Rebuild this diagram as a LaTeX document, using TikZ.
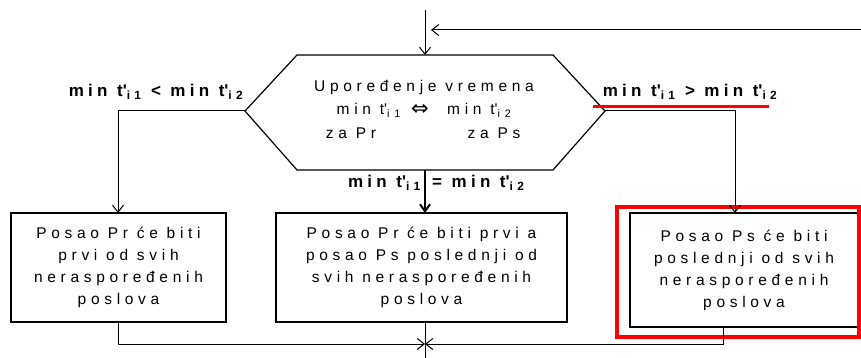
\documentclass[tikz,border=0pt]{standalone}
\usepackage{fontspec}
\setmainfont{Liberation Sans}
\newfontfamily\arrfont{DejaVu Sans}
\usetikzlibrary{arrows.meta}
\newXeTeXintercharclass\lsclass
\makeatletter
\newcommand\setlsrange[2]{\count@=#1\relax
  \loop\ifnum\count@<\numexpr#2+1\relax
    \XeTeXcharclass\count@=\lsclass
    \advance\count@ by 1
  \repeat}
\setlsrange{`a}{`z}
\setlsrange{`A}{`Z}
\setlsrange{`0}{`9}
\XeTeXcharclass"0107=\lsclass
\XeTeXcharclass"0111=\lsclass
\XeTeXcharclass`<=\lsclass
\XeTeXcharclass`>=\lsclass
\XeTeXcharclass`==\lsclass
\makeatother
\newcommand\tsb[1]{\textsubscript{#1}}
\newcommand\tq{\textquotesingle}
\newcommand\boxfont{\fontsize{15.5}{22}\selectfont
  \XeTeXinterchartokenstate=1
  \XeTeXinterchartoks\lsclass\lsclass={\kern4.7pt}%
  \spaceskip=8.8pt\relax}
\newcommand\lblfont{\bfseries\fontsize{17}{18}\selectfont
  \XeTeXinterchartokenstate=1
  \XeTeXinterchartoks\lsclass\lsclass={\kern4.3pt}%
  \spaceskip=9.5pt\relax}
\begin{document}
\begin{tikzpicture}[x=1pt,y=-1pt,
  box/.style={draw, line width=1.2pt, inner sep=0pt, align=center, font=\boxfont},
  lbl/.style={inner sep=0pt, font=\lblfont},
  htxt/.style={inner sep=0pt, font=\boxfont},
  conn/.style={line width=1pt, -{Straight Barb[length=7pt,width=11pt]}},
  mainconn/.style={line width=2pt, -{Straight Barb[length=7pt,width=10pt]}},
  hexline/.style={line width=1.2pt, line join=miter}]
\useasboundingbox (0,0) rectangle (861,358);
% hexagon
\coordinate (hTL) at (297,55);
\coordinate (hTR) at (553,55);
\coordinate (hR) at (605,111);
\coordinate (hBR) at (553,170);
\coordinate (hBL) at (297,170);
\coordinate (hL) at (245,111);
\draw[hexline] (hTL) -- (hTR) -- (hR) -- (hBR) -- (hBL) -- (hL) -- cycle;
\coordinate (hT) at (425,55);
\coordinate (hB) at (425,170);
\node[htxt] (t1) at (424,87) {Upoređenje vremena};
\node[htxt, anchor=east] (t2a) at (401,110) {min t\tq\tsb{i1}};
\node[inner sep=0pt, font=\arrfont\fontsize{21}{22}\selectfont] (t2b) at (420,110) {⇔};
\node[htxt, anchor=west] (t2c) at (447,110) {min t\tq\tsb{i2}};
\node[htxt] (t3) at (351,133) {za Pr};
\node[htxt] (t4) at (494,133) {za Ps};
% boxes
\node[box, minimum width=215pt, minimum height=109pt] (b1) at (118.5,267.5)
  {Posao Pr će biti\\prvi od svih\\neraspoređenih\\poslova};
\node[box, minimum width=291pt, minimum height=109pt] (b2) at (421.5,267.5)
  {Posao Pr će biti prvi a\\posao Ps poslednji od\\svih neraspoređenih\\poslova};
\node[box, minimum width=228pt, minimum height=114pt] (b3) at (744,270)
  {Posao Ps će biti\\poslednji od svih\\neraspoređenih\\poslova};
\node[draw=red, line width=4pt, minimum width=242pt, minimum height=130pt, inner sep=0pt] (hl) at (738,272) {};
% labels
\node[lbl] (l1) at (156,92) {min t\tq\tsb{i1} < min t\tq\tsb{i2}};
\node[lbl] (l2) at (690,92) {min t\tq\tsb{i1} > min t\tq\tsb{i2}};
\node[lbl, anchor=east] (l3a) at (421,183) {min t\tq\tsb{i1}};
\node[lbl, anchor=west] (l3b) at (432,183) {= min t\tq\tsb{i2}};
\coordinate (u1) at (593,107);
\coordinate (u2) at (769,107);
\draw[red, line width=3pt] (u1) -- (u2);
% connectors top
\coordinate (topin) at (425,10);
\draw[conn] (topin) -- (hT);
\coordinate (rin) at (861,30);
\coordinate (rtip) at (431,30);
\draw[conn] (rin) -- (rtip);
% branches
\coordinate (b1in) at (118,213);
\coordinate (b3in) at (735,213);
\draw[conn] (hL) -- (b1in |- hL) -- (b1in);
\draw[conn] (hR) -- (b3in |- hR) -- (b3in);
\coordinate (b2in) at (425,213);
\draw[mainconn] (hB) -- (b2in);
% bottom
\coordinate (m) at (425,344);
\coordinate (b1out) at (118,322);
\coordinate (b3out) at (723,327);
\coordinate (b2out) at (425,322);
\coordinate (bend) at (425,358);
\draw[conn] (b1out) -- (b1out |- m) -- (m);
\draw[conn] (b3out) -- (b3out |- m) -- (m);
\draw[line width=1pt] (b2out) -- (bend);
\end{tikzpicture}
\end{document}
